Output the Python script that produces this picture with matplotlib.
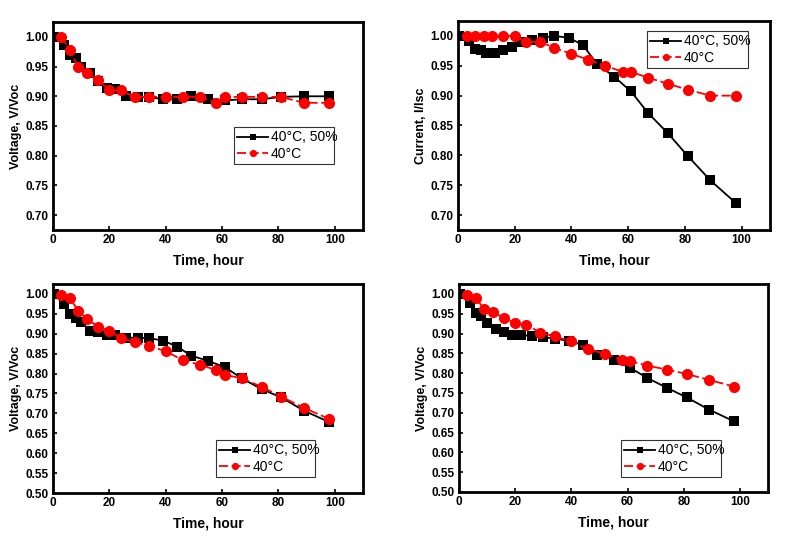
import matplotlib
matplotlib.use("Agg")
import matplotlib.pyplot as plt

plt.rcParams['font.family'] = ['Liberation Sans', 'DejaVu Sans']

# Time points
t_black = [0.5, 4, 6, 8, 10, 13, 16, 19, 22, 26, 30, 34, 39, 44, 49, 55, 61, 67, 74, 81, 89, 98]
t_red = [3, 6, 9, 12, 16, 20, 24, 29, 34, 40, 46, 52, 58, 61, 67, 74, 81, 89, 98]

# Panel 1: Voltage
v1_black = [1.00, 0.986, 0.969, 0.964, 0.949, 0.939, 0.926, 0.914, 0.912, 0.900, 0.899, 0.899,
            0.895, 0.896, 0.900, 0.896, 0.893, 0.895, 0.895, 0.899, 0.900, 0.900]
v1_red = [1.00, 0.978, 0.949, 0.939, 0.928, 0.910, 0.910, 0.899, 0.899, 0.899, 0.899, 0.899,
          0.889, 0.899, 0.899, 0.899, 0.899, 0.889, 0.889]

# Panel 2: Current
i2_black = [1.00, 0.991, 0.978, 0.976, 0.972, 0.972, 0.977, 0.981, 0.989, 0.994, 0.997, 1.00,
            0.997, 0.985, 0.953, 0.932, 0.907, 0.871, 0.837, 0.799, 0.758, 0.720]
i2_red = [1.00, 1.00, 1.00, 1.00, 1.00, 1.00, 0.99, 0.99, 0.98, 0.97, 0.96, 0.95,
          0.94, 0.94, 0.93, 0.92, 0.91, 0.90, 0.90]

# Panel 3: Voltage
v3_black = [1.00, 0.975, 0.950, 0.940, 0.930, 0.908, 0.905, 0.897, 0.897, 0.890, 0.890, 0.889,
            0.883, 0.868, 0.845, 0.832, 0.816, 0.788, 0.761, 0.740, 0.707, 0.678]
v3_red = [0.998, 0.989, 0.958, 0.937, 0.918, 0.908, 0.889, 0.879, 0.870, 0.856, 0.834, 0.822,
          0.809, 0.797, 0.788, 0.767, 0.742, 0.714, 0.686]

# Panel 4: Voltage
v4_black = [1.00, 0.976, 0.952, 0.943, 0.926, 0.912, 0.905, 0.897, 0.897, 0.893, 0.891, 0.887,
            0.882, 0.872, 0.847, 0.834, 0.813, 0.788, 0.763, 0.739, 0.708, 0.678]
v4_red = [0.998, 0.989, 0.962, 0.955, 0.939, 0.927, 0.922, 0.902, 0.893, 0.880, 0.860, 0.849,
          0.834, 0.830, 0.819, 0.809, 0.798, 0.783, 0.766]

labels = ["40°C, 50%", "40°C"]
xticks = [0, 20, 40, 60, 80, 100]

fig = plt.figure(figsize=(7.98, 5.38), dpi=100)

W, H = 798, 538
def add_ax(l, r, t, b):
    return fig.add_axes([l / W, (H - b) / H, (r - l) / W, (b - t) / H])

panels = [
    (add_ax(53, 363, 22, 230), v1_black, v1_red, "Voltage, V/Voc", (0.675, 1.025),
     [0.70, 0.75, 0.80, 0.85, 0.90, 0.95, 1.00], (234, 128, 334, 164)),
    (add_ax(458, 770, 21, 230), i2_black, i2_red, "Current, I/Isc", (0.675, 1.025),
     [0.70, 0.75, 0.80, 0.85, 0.90, 0.95, 1.00], (647, 28, 748, 68)),
    (add_ax(53, 363, 284, 493), v3_black, v3_red, "Voltage, V/Voc", (0.50, 1.025),
     [0.50, 0.55, 0.60, 0.65, 0.70, 0.75, 0.80, 0.85, 0.90, 0.95, 1.00], (216, 437, 315, 477)),
    (add_ax(459, 768, 284, 492), v4_black, v4_red, "Voltage, V/Voc", (0.50, 1.025),
     [0.50, 0.55, 0.60, 0.65, 0.70, 0.75, 0.80, 0.85, 0.90, 0.95, 1.00], (621, 438, 721, 477)),
]

for ax, yb, yr, ylab, ylim, yticks, lbox in panels:
    ax.plot(t_black, yb, color='black', linestyle='-', linewidth=1.3, marker='s',
            markersize=6.5, markeredgewidth=0, label=labels[0], zorder=3)
    ax.plot(t_red, yr, color='#ff0000', linestyle=(0, (5, 2)), linewidth=1.3, marker='o',
            markersize=8, markeredgewidth=0, label=labels[1], zorder=4)
    ax.set_xlim(0, 110)
    ax.set_ylim(*ylim)
    ax.set_xticks(xticks)
    ax.set_yticks(yticks)
    ax.set_yticklabels([f"{v:.2f}" for v in yticks])
    ax.tick_params(direction='in', length=3, width=1.2, labelsize=8.5, top=False, right=False,
                   pad=3)
    for lab in ax.get_xticklabels() + ax.get_yticklabels():
        lab.set_fontweight('bold')
    for s in ax.spines.values():
        s.set_linewidth(2.0)
    ax.set_xlabel("Time, hour", fontsize=10, fontweight='bold', labelpad=5)
    ax.set_ylabel(ylab, fontsize=9, fontweight='bold', labelpad=3)
    l, t, r, b = lbox
    leg = ax.legend(loc='lower left',
                    bbox_to_anchor=(l / W, (H - b) / H, (r - l) / W, (b - t) / H),
                    bbox_transform=fig.transFigure, mode='expand',
                    fontsize=10, frameon=True, fancybox=False, handlelength=2.2,
                    handletextpad=0.2, borderpad=0.25, labelspacing=0.15, borderaxespad=0,
                    markerscale=0.65)
    leg.get_frame().set_edgecolor('black')
    leg.get_frame().set_linewidth(0.8)

fig.savefig("out.png", dpi=100)
